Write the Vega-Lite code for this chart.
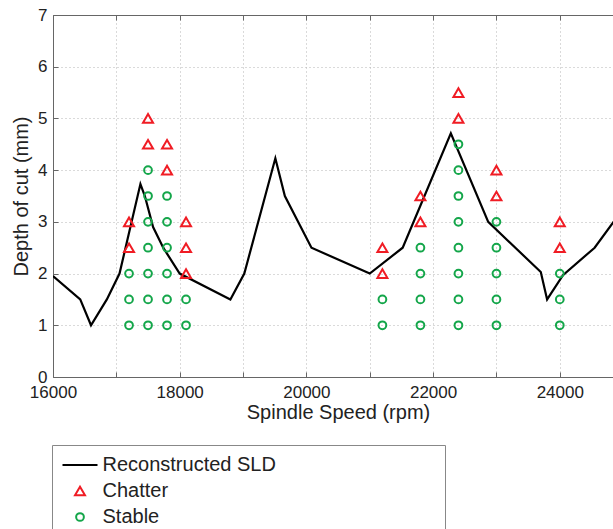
{
  "$schema": "https://vega.github.io/schema/vega-lite/v6.json",
  "autosize": {"type": "none"},
  "padding": {"left": 53, "top": 15, "right": 0, "bottom": 152},
  "width": 560,
  "height": 362,
  "background": "white",
  "config": {
    "view": {"stroke": null},
    "font": "Liberation Sans",
    "axis": {
      "labelFont": "Liberation Sans",
      "titleFont": "Liberation Sans",
      "labelColor": "#222",
      "titleColor": "#222",
      "labelFontSize": 17,
      "titleFontSize": 20,
      "titleFontWeight": "normal",
      "domainColor": "#666",
      "tickColor": "#666",
      "gridColor": "#b5b5b5",
      "gridDash": [1, 3],
      "tickSize": -5,
      "labelFlush": false,
      "labelOverlap": false
    },
    "legend": {
      "orient": "none",
      "legendX": -1,
      "legendY": 430,
      "direction": "vertical",
      "padding": 7,
      "strokeColor": "#888",
      "fillColor": "white",
      "clipHeight": 26,
      "rowPadding": 0,
      "symbolOffset": 2.5,
      "labelOffset": 4,
      "labelFont": "Liberation Sans",
      "labelFontSize": 20,
      "labelColor": "#222",
      "labelLimit": 600,
      "symbolStrokeWidth": 2
    }
  },
  "data": {
    "values": [
      {"speed": 16000, "depth": 1.95, "series": "Reconstructed SLD"},
      {"speed": 16430, "depth": 1.5, "series": "Reconstructed SLD"},
      {"speed": 16600, "depth": 1.0, "series": "Reconstructed SLD"},
      {"speed": 16850, "depth": 1.5, "series": "Reconstructed SLD"},
      {"speed": 17050, "depth": 2.0, "series": "Reconstructed SLD"},
      {"speed": 17380, "depth": 3.73, "series": "Reconstructed SLD"},
      {"speed": 17450, "depth": 3.5, "series": "Reconstructed SLD"},
      {"speed": 17580, "depth": 2.9, "series": "Reconstructed SLD"},
      {"speed": 17740, "depth": 2.5, "series": "Reconstructed SLD"},
      {"speed": 18000, "depth": 2.0, "series": "Reconstructed SLD"},
      {"speed": 18800, "depth": 1.5, "series": "Reconstructed SLD"},
      {"speed": 19020, "depth": 2.0, "series": "Reconstructed SLD"},
      {"speed": 19510, "depth": 4.23, "series": "Reconstructed SLD"},
      {"speed": 19660, "depth": 3.5, "series": "Reconstructed SLD"},
      {"speed": 20080, "depth": 2.5, "series": "Reconstructed SLD"},
      {"speed": 21000, "depth": 2.0, "series": "Reconstructed SLD"},
      {"speed": 21520, "depth": 2.5, "series": "Reconstructed SLD"},
      {"speed": 22280, "depth": 4.71, "series": "Reconstructed SLD"},
      {"speed": 22870, "depth": 3.0, "series": "Reconstructed SLD"},
      {"speed": 23700, "depth": 2.03, "series": "Reconstructed SLD"},
      {"speed": 23800, "depth": 1.5, "series": "Reconstructed SLD"},
      {"speed": 24050, "depth": 1.97, "series": "Reconstructed SLD"},
      {"speed": 24550, "depth": 2.5, "series": "Reconstructed SLD"},
      {"speed": 25000, "depth": 3.25, "series": "Reconstructed SLD"},

      {"speed": 17200, "depth": 3.0, "series": "Chatter"},
      {"speed": 17200, "depth": 2.5, "series": "Chatter"},
      {"speed": 17200, "depth": 2.0, "series": "Stable"},
      {"speed": 17200, "depth": 1.5, "series": "Stable"},
      {"speed": 17200, "depth": 1.0, "series": "Stable"},

      {"speed": 17500, "depth": 5.0, "series": "Chatter"},
      {"speed": 17500, "depth": 4.5, "series": "Chatter"},
      {"speed": 17500, "depth": 4.0, "series": "Stable"},
      {"speed": 17500, "depth": 3.5, "series": "Stable"},
      {"speed": 17500, "depth": 3.0, "series": "Stable"},
      {"speed": 17500, "depth": 2.5, "series": "Stable"},
      {"speed": 17500, "depth": 2.0, "series": "Stable"},
      {"speed": 17500, "depth": 1.5, "series": "Stable"},
      {"speed": 17500, "depth": 1.0, "series": "Stable"},

      {"speed": 17800, "depth": 4.5, "series": "Chatter"},
      {"speed": 17800, "depth": 4.0, "series": "Chatter"},
      {"speed": 17800, "depth": 3.5, "series": "Stable"},
      {"speed": 17800, "depth": 3.0, "series": "Stable"},
      {"speed": 17800, "depth": 2.5, "series": "Stable"},
      {"speed": 17800, "depth": 2.0, "series": "Stable"},
      {"speed": 17800, "depth": 1.5, "series": "Stable"},
      {"speed": 17800, "depth": 1.0, "series": "Stable"},

      {"speed": 18100, "depth": 3.0, "series": "Chatter"},
      {"speed": 18100, "depth": 2.5, "series": "Chatter"},
      {"speed": 18100, "depth": 2.0, "series": "Chatter"},
      {"speed": 18100, "depth": 1.5, "series": "Stable"},
      {"speed": 18100, "depth": 1.0, "series": "Stable"},

      {"speed": 21200, "depth": 2.5, "series": "Chatter"},
      {"speed": 21200, "depth": 2.0, "series": "Chatter"},
      {"speed": 21200, "depth": 1.5, "series": "Stable"},
      {"speed": 21200, "depth": 1.0, "series": "Stable"},

      {"speed": 21800, "depth": 3.5, "series": "Chatter"},
      {"speed": 21800, "depth": 3.0, "series": "Chatter"},
      {"speed": 21800, "depth": 2.5, "series": "Stable"},
      {"speed": 21800, "depth": 2.0, "series": "Stable"},
      {"speed": 21800, "depth": 1.5, "series": "Stable"},
      {"speed": 21800, "depth": 1.0, "series": "Stable"},

      {"speed": 22400, "depth": 5.5, "series": "Chatter"},
      {"speed": 22400, "depth": 5.0, "series": "Chatter"},
      {"speed": 22400, "depth": 4.5, "series": "Stable"},
      {"speed": 22400, "depth": 4.0, "series": "Stable"},
      {"speed": 22400, "depth": 3.5, "series": "Stable"},
      {"speed": 22400, "depth": 3.0, "series": "Stable"},
      {"speed": 22400, "depth": 2.5, "series": "Stable"},
      {"speed": 22400, "depth": 2.0, "series": "Stable"},
      {"speed": 22400, "depth": 1.5, "series": "Stable"},
      {"speed": 22400, "depth": 1.0, "series": "Stable"},

      {"speed": 23000, "depth": 4.0, "series": "Chatter"},
      {"speed": 23000, "depth": 3.5, "series": "Chatter"},
      {"speed": 23000, "depth": 3.0, "series": "Stable"},
      {"speed": 23000, "depth": 2.5, "series": "Stable"},
      {"speed": 23000, "depth": 2.0, "series": "Stable"},
      {"speed": 23000, "depth": 1.5, "series": "Stable"},
      {"speed": 23000, "depth": 1.0, "series": "Stable"},

      {"speed": 24000, "depth": 3.0, "series": "Chatter"},
      {"speed": 24000, "depth": 2.5, "series": "Chatter"},
      {"speed": 24000, "depth": 2.0, "series": "Stable"},
      {"speed": 24000, "depth": 1.5, "series": "Stable"},
      {"speed": 24000, "depth": 1.0, "series": "Stable"}
    ]
  },
  "resolve": {"axis": {"x": "independent", "y": "independent"}},
  "layer": [
    {
      "transform": [{"filter": "datum.series === 'Reconstructed SLD'"}],
      "mark": {"type": "line", "color": "black", "strokeWidth": 2.2, "clip": true},
      "encoding": {
        "x": {
          "field": "speed", "type": "quantitative",
          "scale": {"domain": [16000, 24840], "nice": false, "zero": false},
          "axis": {
            "orient": "bottom",
            "values": [16000, 17000, 18000, 19000, 20000, 21000, 22000, 23000, 24000],
            "format": "d",
            "labelExpr": "datum.value % 2000 === 0 ? datum.label : ''",
            "grid": true,
            "labelPadding": 12,
            "title": "Spindle Speed (rpm)",
            "titleX": 285,
            "titleY": 41,
            "titleBaseline": "alphabetic"
          }
        },
        "y": {
          "field": "depth", "type": "quantitative",
          "scale": {"domain": [0, 7], "nice": false},
          "axis": {
            "orient": "left",
            "values": [0, 1, 2, 3, 4, 5, 6, 7],
            "grid": true,
            "labelPadding": 11,
            "title": "Depth of cut (mm)",
            "titleX": -26,
            "titleY": 181,
            "titleBaseline": "alphabetic"
          }
        },
        "color": {
          "field": "series", "type": "nominal",
          "scale": {"domain": ["Reconstructed SLD", "Chatter", "Stable"], "range": ["#000000", "#f01c24", "#14a64a"]},
          "legend": {"title": null, "labelExpr": "datum.label === 'Reconstructed SLD' ? datum.label + '\u00a0\u00a0\u00a0\u00a0\u00a0\u00a0\u00a0\u00a0\u00a0\u00a0\u00a0\u00a0\u00a0\u00a0\u00a0\u00a0\u00a0\u00a0\u00a0\u00a0\u00a0\u00a0\u00a0\u00a0\u00a0\u00a0\u00a0\u00a0\u00a0\u200b' : datum.label"}
        }
      }
    },
    {
      "transform": [{"filter": "datum.series !== 'Reconstructed SLD'"}],
      "mark": {"type": "point", "filled": false, "strokeWidth": 2, "opacity": 1},
      "encoding": {
        "x": {
          "field": "speed", "type": "quantitative",
          "scale": {"domain": [16000, 24840], "nice": false, "zero": false},
          "axis": {
            "orient": "top",
            "values": [16000, 17000, 18000, 19000, 20000, 21000, 22000, 23000, 24000],
            "labels": false,
            "grid": false,
            "title": null
          }
        },
        "y": {
          "field": "depth", "type": "quantitative",
          "scale": {"domain": [0, 7], "nice": false},
          "axis": null
        },
        "color": {
          "field": "series", "type": "nominal",
          "scale": {"domain": ["Reconstructed SLD", "Chatter", "Stable"], "range": ["#000000", "#f01c24", "#14a64a"]},
          "legend": {"title": null, "labelExpr": "datum.label === 'Reconstructed SLD' ? datum.label + '\u00a0\u00a0\u00a0\u00a0\u00a0\u00a0\u00a0\u00a0\u00a0\u00a0\u00a0\u00a0\u00a0\u00a0\u00a0\u00a0\u00a0\u00a0\u00a0\u00a0\u00a0\u00a0\u00a0\u00a0\u00a0\u00a0\u00a0\u00a0\u00a0\u200b' : datum.label"}
        },
        "shape": {
          "field": "series", "type": "nominal",
          "scale": {"domain": ["Reconstructed SLD", "Chatter", "Stable"], "range": ["stroke", "triangle-up", "circle"]},
          "legend": {"title": null}
        },
        "size": {
          "field": "series", "type": "nominal",
          "scale": {"type": "ordinal", "domain": ["Reconstructed SLD", "Chatter", "Stable"], "range": [1225, 100, 60]},
          "legend": {"title": null}
        }
      }
    }
  ]
}
